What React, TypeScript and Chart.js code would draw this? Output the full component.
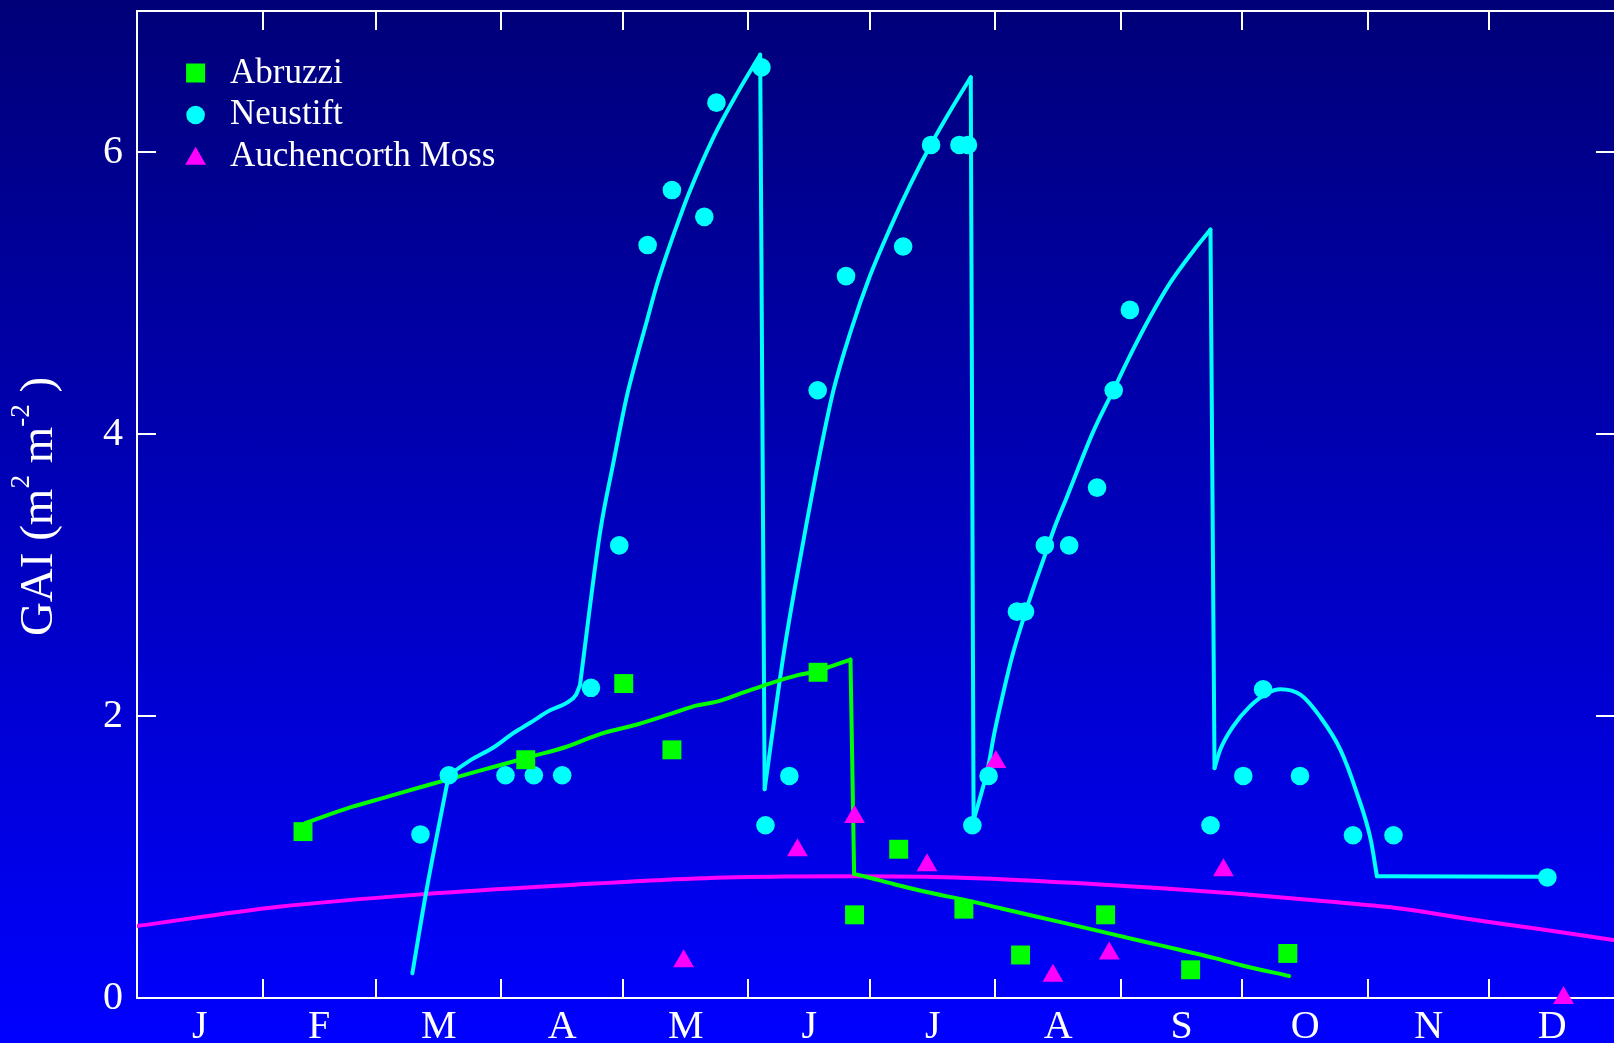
import React, { useEffect, useRef } from 'react';
import { Chart, registerables } from 'chart.js';

Chart.register(...registerables);

// ---------- data ----------
const monthLabels = ['J', 'F', 'M', 'A', 'M', 'J', 'J', 'A', 'S', 'O', 'N', 'D'];
const monthStarts = [0, 31, 59, 90, 120, 151, 181, 212, 243, 273, 304, 334, 365];
const yTickValues = [0, 2, 4, 6];

// Abruzzi observations (squares)
const abruzziDays = [41.0, 96.0, 120.2, 132.1, 168.2, 177.2, 188.1, 204.2, 218.2, 239.2, 260.2, 284.2];
const abruzziGAI = [1.18, 1.69, 2.23, 1.76, 2.31, 0.59, 1.055, 0.63, 0.305, 0.59, 0.2, 0.316];

// Neustift observations (circles)
const neustiftDays = [70.0, 77.0, 91.0, 98.0, 105.0, 112.1, 119.1, 126.1, 132.1, 140.1, 143.1, 154.2, 155.2, 161.1,
  168.1, 175.1, 189.2, 196.1, 203.1, 205.2, 206.3, 210.3, 217.3, 219.3, 224.2, 230.2, 237.1, 241.2, 245.2,
  265.1, 273.2, 278.1, 287.2, 300.3, 310.3, 348.3];
const neustiftGAI = [1.16, 1.58, 1.58, 1.58, 1.58, 2.2, 3.21, 5.34, 5.73, 5.54, 6.35, 6.6, 1.225, 1.575,
  4.31, 5.12, 5.33, 6.05, 6.05, 6.05, 1.225, 1.575, 2.74, 2.74, 3.21, 3.21, 3.62, 4.31, 4.88,
  1.225, 1.575, 2.19, 1.575, 1.154, 1.154, 0.855];

// Auchencorth Moss observations (triangles)
const auchenDays = [135.0, 163.1, 177.2, 195.1, 212.1, 226.2, 240.1, 268.3, 352.3];
const auchenGAI = [0.261, 1.047, 1.283, 0.941, 1.673, 0.157, 0.315, 0.906, 0.0];

// Abruzzi model line
const abruzziModelDays = [41.5, 53, 61.7, 70.6, 79.4, 88.2, 97.0, 105.9, 114.7, 123.5, 132.3, 138.3, 142.9, 149.1,
  156.2, 163.2, 168.2, 171.2, 176.2, 177.1, 180, 187.0, 195.9, 204.7, 213.5, 222.3, 231.3, 240, 248.8, 257.7,
  266.4, 272.5, 284.5];
const abruzziModelGAI = [1.24, 1.355, 1.426, 1.5, 1.57, 1.64, 1.71, 1.78, 1.875, 1.94, 2.02, 2.075, 2.1, 2.16,
  2.23, 2.29, 2.32, 2.35, 2.4, 0.88, 0.86, 0.807, 0.746, 0.694, 0.635, 0.576, 0.517, 0.458, 0.399, 0.34,
  0.281, 0.234, 0.156];
const abruzziModelCorners = [176.2, 177.1];

// Neustift model line
const neustiftModelDays = [68, 71.5, 77, 82, 88.2, 93, 97, 102, 105.9, 108.4, 109.4, 114.4, 117.6, 120.9, 123.4,
  125.9, 128.4, 131.6, 134.1, 136.2, 142.3, 148.5, 153.9,
  155.0, 157.3, 159.7, 162.4, 165.0, 168.5, 172.0, 176.5, 181.0, 186.0, 191.0, 196.0, 201.0, 205.9,
  206.6, 207.8, 210.2, 211.7, 213.5, 216.1, 218.8, 221.4, 224.1, 226.5, 229.6, 236.2, 241.1, 246.0, 250.2,
  255.1, 260.9, 265.1,
  266.1, 267.5, 270.8, 274.9, 279.0, 282.4, 287.4, 292.3, 297.2, 301.3, 304.7, 306.2, 348.3];
const neustiftModelGAI = [0.175, 0.765, 1.58, 1.68, 1.78, 1.88, 1.95, 2.04, 2.09, 2.15, 2.22, 3.31, 3.79, 4.26, 4.54,
  4.8, 5.06, 5.34, 5.54, 5.7, 6.1, 6.43, 6.69,
  1.48, 1.96, 2.44, 2.9, 3.31, 3.84, 4.31, 4.75, 5.12, 5.46, 5.77, 6.05, 6.3, 6.53,
  1.26, 1.38, 1.64, 1.875, 2.11, 2.42, 2.68, 2.91, 3.13, 3.33, 3.55, 4.02, 4.31, 4.6, 4.83,
  5.07, 5.3, 5.45,
  1.63, 1.76, 1.93, 2.07, 2.16, 2.19, 2.15, 1.99, 1.76, 1.45, 1.12, 0.864, 0.86];
const neustiftModelCorners = [77, 109.4, 153.9, 155.0, 205.9, 206.6, 265.1, 266.1, 306.2];

// Auchencorth Moss model line
const auchenModelDays = [0, 35, 70.6, 106, 138, 160, 178, 195, 209, 231, 254, 272, 295, 312, 328, 345, 365];
const auchenModelGAI = [0.51, 0.647, 0.736, 0.8, 0.848, 0.862, 0.864, 0.86, 0.848, 0.817, 0.777, 0.74, 0.682,
  0.635, 0.564, 0.494, 0.41];

const seriesNames = ['Abruzzi', 'Neustift', 'Auchencorth Moss'];
const yTitleParts = [
  { text: 'GAI (m', sup: false },
  { text: '2', sup: true },
  { text: ' m', sup: false },
  { text: '-2', sup: true },
  { text: ' )', sup: false },
];

// ---------- styles ----------
const GREEN = '#00ff00';
const CYAN = '#00ffff';
const MAGENTA = '#ff00ff';
const FONT = "'Liberation Serif', 'Times New Roman', serif";

const toXY = (xs: number[], ys: number[]) => xs.map((x, i) => ({ x, y: ys[i] }));

// split a model curve into smooth pieces at its sharp corners (corner point shared)
function splitAtCorners(xs: number[], ys: number[], corners: number[]) {
  const pieces: { x: number; y: number }[][] = [];
  let cur: { x: number; y: number }[] = [];
  xs.forEach((x, i) => {
    cur.push({ x, y: ys[i] });
    if (corners.includes(x) && cur.length > 1) {
      pieces.push(cur);
      cur = [{ x, y: ys[i] }];
    }
  });
  if (cur.length > 1) pieces.push(cur);
  return pieces;
}

function drawSymbol(ctx: CanvasRenderingContext2D, kind: string, x: number, y: number) {
  ctx.beginPath();
  if (kind === 'rect') {
    const s = 9.5;
    ctx.rect(x - s, y - s, 2 * s, 2 * s);
  } else if (kind === 'circle') {
    ctx.arc(x, y, 9.3, 0, Math.PI * 2);
  } else {
    const r = 12;
    let a = 0;
    ctx.moveTo(x + Math.sin(a) * r, y - Math.cos(a) * r);
    a += (2 * Math.PI) / 3;
    ctx.lineTo(x + Math.sin(a) * r, y - Math.cos(a) * r);
    a += (2 * Math.PI) / 3;
    ctx.lineTo(x + Math.sin(a) * r, y - Math.cos(a) * r);
    ctx.closePath();
  }
  ctx.fill();
}

const zeroPadding = (scale: any) => {
  scale.paddingTop = 0;
  scale.paddingBottom = 0;
  scale.paddingLeft = 0;
  scale.paddingRight = 0;
};

const framePlugin = {
  id: 'frameAndDecor',
  beforeDatasetsDraw(chart: any) {
    const { ctx, chartArea: a, scales } = chart;
    const x = scales.x;
    const y = scales.y;
    ctx.save();
    ctx.strokeStyle = '#ffffff';
    ctx.lineWidth = 2;
    ctx.strokeRect(a.left, a.top, a.right - a.left, a.bottom - a.top);
    ctx.beginPath();
    for (const d of monthStarts.slice(1, -1)) {
      const px = Math.round(x.getPixelForValue(d));
      ctx.moveTo(px, a.bottom);
      ctx.lineTo(px, a.bottom - 19);
      ctx.moveTo(px, a.top);
      ctx.lineTo(px, a.top + 19);
    }
    for (const v of yTickValues) {
      if (v === 0) continue;
      const py = Math.round(y.getPixelForValue(v));
      ctx.moveTo(a.left, py);
      ctx.lineTo(a.left + 19, py);
      ctx.moveTo(a.right, py);
      ctx.lineTo(a.right - 19, py);
    }
    ctx.stroke();
    ctx.restore();
  },
  afterDraw(chart: any) {
    const { ctx, chartArea: a } = chart;
    // y-axis title with superscripts
    ctx.save();
    ctx.fillStyle = '#ffffff';
    ctx.textBaseline = 'alphabetic';
    ctx.textAlign = 'left';
    ctx.translate(52, (a.top + a.bottom) / 2 + 2);
    ctx.rotate(-Math.PI / 2);
    const mainFont = `47px ${FONT}`;
    const supFont = `27px ${FONT}`;
    let total = 0;
    const widths = yTitleParts.map((p) => {
      ctx.font = p.sup ? supFont : mainFont;
      const w = ctx.measureText(p.text).width;
      total += w;
      return w;
    });
    let cx = -total / 2;
    yTitleParts.forEach((p, i) => {
      ctx.font = p.sup ? supFont : mainFont;
      ctx.fillText(p.text, cx, p.sup ? -23 : 0);
      cx += widths[i];
    });
    ctx.restore();

    // legend
    ctx.save();
    const kinds = ['rect', 'circle', 'triangle'];
    const colors = [GREEN, CYAN, MAGENTA];
    const symY = [73, 115, 158.7];
    const textY = [82.7, 124.3, 165.7];
    ctx.font = `35px ${FONT}`;
    ctx.textBaseline = 'alphabetic';
    ctx.textAlign = 'left';
    seriesNames.forEach((name, i) => {
      ctx.fillStyle = colors[i];
      drawSymbol(ctx, kinds[i], 195.6, symY[i]);
      ctx.fillStyle = '#ffffff';
      ctx.fillText(name, 230, textY[i]);
    });
    ctx.restore();
  },
};

const lineStyle = (color: string) => ({
  showLine: true,
  pointRadius: 0,
  borderColor: color,
  borderWidth: 4,
  cubicInterpolationMode: 'monotone',
  borderCapStyle: 'round',
  borderJoinStyle: 'round',
});

export default function App() {
  const canvasRef = useRef<HTMLCanvasElement | null>(null);

  useEffect(() => {
    const canvas = canvasRef.current;
    if (!canvas) return;
    const midMonths = monthStarts.slice(0, -1).map((s, i) => (s + monthStarts[i + 1]) / 2);

    const lineDatasets: any[] = [];
    splitAtCorners(abruzziModelDays, abruzziModelGAI, abruzziModelCorners).forEach((piece, i) =>
      lineDatasets.push({ label: `Abruzzi model ${i + 1}`, data: piece, ...lineStyle(GREEN) })
    );
    splitAtCorners(neustiftModelDays, neustiftModelGAI, neustiftModelCorners).forEach((piece, i) =>
      lineDatasets.push({ label: `Neustift model ${i + 1}`, data: piece, ...lineStyle(CYAN) })
    );
    lineDatasets.push({
      label: 'Auchencorth Moss model',
      data: toXY(auchenModelDays, auchenModelGAI),
      ...lineStyle(MAGENTA),
    });

    const chart = new Chart(canvas, {
      type: 'scatter',
      data: {
        datasets: [
          {
            label: seriesNames[0],
            data: toXY(abruzziDays, abruzziGAI),
            pointStyle: 'rect',
            pointRadius: 13.4,
            backgroundColor: GREEN,
            borderWidth: 0,
            clip: false,
          },
          {
            label: seriesNames[1],
            data: toXY(neustiftDays, neustiftGAI),
            pointStyle: 'circle',
            pointRadius: 9.3,
            backgroundColor: CYAN,
            borderWidth: 0,
            clip: false,
          },
          {
            label: seriesNames[2],
            data: toXY(auchenDays, auchenGAI),
            pointStyle: 'triangle',
            pointRadius: 12,
            backgroundColor: MAGENTA,
            borderWidth: 0,
            clip: false,
          },
          ...lineDatasets,
        ] as any,
      },
      options: {
        animation: false,
        responsive: false,
        devicePixelRatio: 1,
        events: [],
        layout: { autoPadding: false, padding: { top: 11, right: 5, left: 0, bottom: 0 } },
        plugins: {
          legend: { display: false },
          title: { display: false },
          tooltip: { enabled: false },
        },
        scales: {
          x: {
            type: 'linear',
            min: 0,
            max: 365,
            border: { display: false },
            grid: { display: false, drawTicks: false, tickLength: 0 },
            afterBuildTicks: (scale: any) => {
              scale.ticks = midMonths.map((v) => ({ value: v }));
            },
            afterFit: (scale: any) => {
              scale.height = 45;
              zeroPadding(scale);
            },
            ticks: {
              autoSkip: false,
              maxRotation: 0,
              minRotation: 0,
              padding: 5,
              color: '#ffffff',
              font: { family: FONT, size: 40 },
              callback: (_v: any, i: number) => monthLabels[i],
            },
          },
          y: {
            type: 'linear',
            min: 0,
            max: 7,
            border: { display: false },
            grid: { display: false, drawTicks: false, tickLength: 0 },
            afterBuildTicks: (scale: any) => {
              scale.ticks = yTickValues.map((v) => ({ value: v }));
            },
            afterFit: (scale: any) => {
              scale.width = 137;
              zeroPadding(scale);
            },
            ticks: {
              padding: 14,
              color: '#ffffff',
              font: { family: FONT, size: 40 },
              callback: (v: any) => String(v),
            },
          },
        },
      } as any,
      plugins: [framePlugin],
    });
    return () => chart.destroy();
  }, []);

  return (
    <div
      style={{
        position: 'fixed',
        left: 0,
        top: 0,
        width: 1614,
        height: 1043,
        overflow: 'hidden',
        background: 'linear-gradient(to bottom, #000078 0%, #0000ff 100%)',
      }}
    >
      <canvas ref={canvasRef} width={1620} height={1043} style={{ display: 'block' }} />
    </div>
  );
}
